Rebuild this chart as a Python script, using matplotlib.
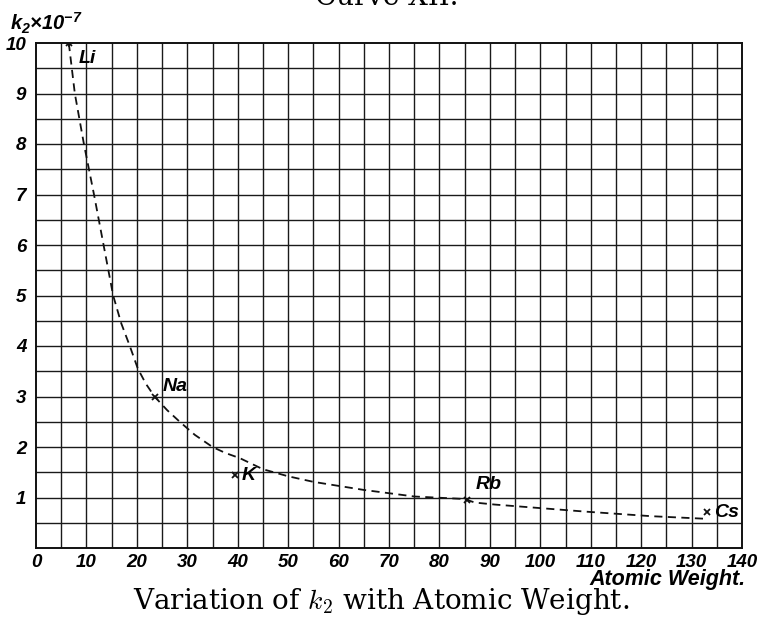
import matplotlib
matplotlib.use("Agg")
import numpy as np
import matplotlib.pyplot as plt

# measured k2 values (x 10^-7) against atomic weight
elements = ["Li", "Na", "K", "Rb", "Cs"]
atomic_weight = [6.5, 23.5, 39.5, 85.5, 133.0]
k2 = [10.0, 3.0, 1.45, 0.95, 0.72]

# hand-drawn smooth curve through the points
curve_x = [6.5, 7.7, 9.5, 11.5, 13.4, 15.3, 16.9, 18.6, 20.2, 21.8, 23.5, 26.0,
           28.5, 31.5, 35.0, 37.6, 40.4, 45.0, 50.0, 55.0, 65.0, 75.0, 85.0,
           87.0, 91.0, 100.0, 109.0, 122.0, 132.5]
curve_y = [10.0, 9.0, 8.0, 7.0, 6.0, 5.0, 4.45, 4.0, 3.55, 3.25, 3.0, 2.73,
           2.5, 2.24, 2.0, 1.88, 1.78, 1.56, 1.42, 1.31, 1.15, 1.02, 0.97,
           0.9, 0.86, 0.79, 0.72, 0.63, 0.58]

x_ticks = list(range(0, 141, 10))
y_ticks = list(range(1, 11))

hand = {"family": "Liberation Sans", "style": "italic", "weight": "bold"}
plt.rcParams["mathtext.fontset"] = "custom"
plt.rcParams["mathtext.rm"] = "Liberation Sans:italic:bold"
plt.rcParams["mathtext.it"] = "Liberation Sans:italic:bold"

fig = plt.figure(figsize=(7.57, 6.18), dpi=100)
ax = fig.add_axes([36 / 757, 70 / 618, 706 / 757, 505 / 618])

ax.set_xlim(0, 140)
ax.set_ylim(0, 10)

# graph paper: every 5 units across, every 0.5 up
for xv in np.arange(5, 140, 5):
    ax.axvline(xv, color="#1a1a1a", lw=1.0, zorder=1)
for yv in np.arange(0.5, 10, 0.5):
    ax.axhline(yv, color="#1a1a1a", lw=1.0, zorder=1)
for s in ax.spines.values():
    s.set_color("#111111")
    s.set_linewidth(1.4)

ax.plot(curve_x, curve_y, color="#111111", lw=1.3, dashes=(4.5, 3), zorder=3)
ax.plot(atomic_weight, k2, ls="none", marker="x", ms=5, mew=1.3,
        color="#111111", zorder=4)
ax.plot(atomic_weight[:1], k2[:1], ls="none", marker="+", ms=6, mew=1.2,
        color="#111111", zorder=4)

label_pos = {"Li": (8.4, 9.7), "Na": (25.2, 3.2), "K": (40.8, 1.43),
             "Rb": (87.2, 1.25), "Cs": (134.4, 0.71)}
for name in elements:
    lx, ly = label_pos[name]
    ax.text(lx, ly, name, fontsize=14, va="center", ha="left", zorder=5, **hand)

ax.set_xticks(x_ticks)
ax.set_yticks(y_ticks)
ax.set_xticklabels([str(v) for v in x_ticks], fontdict=dict(hand, size=13.5))
ax.set_yticklabels([str(v) for v in y_ticks], fontdict=dict(hand, size=13.5))
ax.tick_params(axis="x", length=0, pad=4)
ax.tick_params(axis="y", length=0, pad=7)

fig.text(10 / 757, 1 - 30 / 618, r"$k_2$" + "\u00d7" + r"$10^{-7}$",
         fontsize=14.5, ha="left", va="baseline", **hand)
fig.text(746 / 757, 1 - 585 / 618, "Atomic Weight.", fontsize=15.5,
         ha="right", va="baseline", **hand)

fig.text(0.503, 1 - 609 / 618, r"Variation of $k_2$ with Atomic Weight.",
         fontsize=20, family="DejaVu Serif", math_fontfamily="cm",
         ha="center", va="baseline")
fig.text(0.511, 1 - 5 / 618, "Curve XII.", fontsize=20,
         family="DejaVu Serif", ha="center", va="baseline")

fig.savefig("out.png", dpi=100, facecolor="white")
